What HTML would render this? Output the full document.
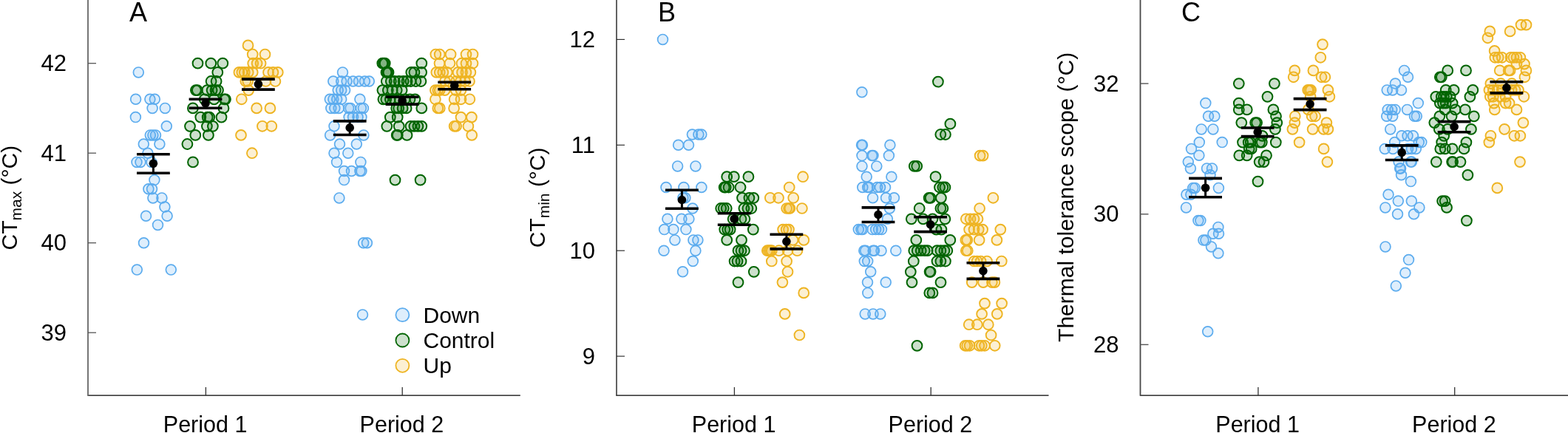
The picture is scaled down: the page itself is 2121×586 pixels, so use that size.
<!DOCTYPE html><html><head><meta charset="utf-8"><style>html,body{margin:0;padding:0;background:#fff}svg{display:block}text{font-family:"Liberation Sans",Arial,sans-serif;fill:#000}.D{fill:rgba(92,172,238,0.2);stroke:#5CACEE;stroke-width:1.7px}.C{fill:rgba(0,100,0,0.2);stroke:#006400;stroke-width:2px}.U{fill:rgba(238,180,34,0.2);stroke:#EEB422;stroke-width:1.9px}</style></head><body>
<svg width="2121" height="586" viewBox="0 0 2121 586">
<line x1="118.5" y1="535.1" x2="703.8" y2="535.1" stroke="#000" stroke-width="1.3"/>
<line x1="119" y1="0" x2="119" y2="535.7" stroke="#666" stroke-width="1.8"/>
<line x1="119" y1="85.7" x2="130" y2="85.7" stroke="#555" stroke-width="1.3"/>
<text x="90" y="96.3" font-size="31" text-anchor="end">42</text>
<line x1="119" y1="207.2" x2="130" y2="207.2" stroke="#555" stroke-width="1.3"/>
<text x="90" y="217.8" font-size="31" text-anchor="end">41</text>
<line x1="119" y1="328.7" x2="130" y2="328.7" stroke="#555" stroke-width="1.3"/>
<text x="90" y="339.3" font-size="31" text-anchor="end">40</text>
<line x1="119" y1="450.2" x2="130" y2="450.2" stroke="#555" stroke-width="1.3"/>
<text x="90" y="460.8" font-size="31" text-anchor="end">39</text>
<line x1="278.4" y1="524" x2="278.4" y2="535" stroke="#333" stroke-width="1.3"/>
<line x1="544.2" y1="524" x2="544.2" y2="535" stroke="#333" stroke-width="1.3"/>
<text x="220.8" y="585" font-size="30.5">Period 1</text>
<text x="486.6" y="585" font-size="30.5">Period 2</text>
<line x1="833.5" y1="535.1" x2="1418.5" y2="535.1" stroke="#000" stroke-width="1.3"/>
<line x1="834" y1="0" x2="834" y2="535.7" stroke="#3a3a3a" stroke-width="1.6"/>
<line x1="834" y1="53.4" x2="845" y2="53.4" stroke="#222" stroke-width="1.1"/>
<text x="805" y="64.0" font-size="31" text-anchor="end">12</text>
<line x1="834" y1="196.3" x2="845" y2="196.3" stroke="#222" stroke-width="1.1"/>
<text x="805" y="206.9" font-size="31" text-anchor="end">11</text>
<line x1="834" y1="339.2" x2="845" y2="339.2" stroke="#222" stroke-width="1.1"/>
<text x="805" y="349.8" font-size="31" text-anchor="end">10</text>
<line x1="834" y1="482.1" x2="845" y2="482.1" stroke="#222" stroke-width="1.1"/>
<text x="805" y="492.7" font-size="31" text-anchor="end">9</text>
<line x1="993.4" y1="524" x2="993.4" y2="535" stroke="#333" stroke-width="1.3"/>
<line x1="1259.2" y1="524" x2="1259.2" y2="535" stroke="#333" stroke-width="1.3"/>
<text x="935.8" y="585" font-size="30.5">Period 1</text>
<text x="1201.6" y="585" font-size="30.5">Period 2</text>
<line x1="1542.0" y1="535.1" x2="2121" y2="535.1" stroke="#000" stroke-width="1.3"/>
<line x1="1542.5" y1="0" x2="1542.5" y2="535.7" stroke="#474747" stroke-width="1.8"/>
<line x1="1542.5" y1="113.1" x2="1553.5" y2="113.1" stroke="#555" stroke-width="1.4"/>
<text x="1513.5" y="123.7" font-size="31" text-anchor="end">32</text>
<line x1="1542.5" y1="289.8" x2="1553.5" y2="289.8" stroke="#555" stroke-width="1.4"/>
<text x="1513.5" y="300.4" font-size="31" text-anchor="end">30</text>
<line x1="1542.5" y1="466.4" x2="1553.5" y2="466.4" stroke="#555" stroke-width="1.4"/>
<text x="1513.5" y="477.0" font-size="31" text-anchor="end">28</text>
<line x1="1701.9" y1="524" x2="1701.9" y2="535" stroke="#333" stroke-width="1.3"/>
<line x1="1967.7" y1="524" x2="1967.7" y2="535" stroke="#333" stroke-width="1.3"/>
<text x="1644.3" y="585" font-size="30.5">Period 1</text>
<text x="1910.1" y="585" font-size="30.5">Period 2</text>
<text x="175" y="28.8" font-size="36">A</text>
<text x="890" y="28.8" font-size="36">B</text>
<text x="1598" y="28.8" font-size="36">C</text>
<text transform="translate(22.5,338.4) rotate(-90)" font-size="30">CT<tspan font-size="21" dy="6">max</tspan><tspan dy="-6"> (°C)</tspan></text>
<text transform="translate(737,335.3) rotate(-90)" font-size="30">CT<tspan font-size="21" dy="6">min</tspan><tspan dy="-6"> (°C)</tspan></text>
<text transform="translate(1452.3,462.9) rotate(-90)" font-size="30">Thermal tolerance scope (°C)</text>
<circle class="D" cx="187.3" cy="97.9" r="6.9"/>
<circle class="D" cx="183.6" cy="134.3" r="6.9"/>
<circle class="D" cx="202.9" cy="134.3" r="6.9"/>
<circle class="D" cx="209.3" cy="134.3" r="6.9"/>
<circle class="D" cx="206.1" cy="146.4" r="6.9"/>
<circle class="D" cx="223.3" cy="146.4" r="6.9"/>
<circle class="D" cx="183.4" cy="158.6" r="6.9"/>
<circle class="D" cx="225.3" cy="170.8" r="6.9"/>
<circle class="D" cx="203.3" cy="182.9" r="6.9"/>
<circle class="D" cx="206.9" cy="182.9" r="6.9"/>
<circle class="D" cx="210.5" cy="182.9" r="6.9"/>
<circle class="D" cx="194.3" cy="195.0" r="6.9"/>
<circle class="D" cx="215.9" cy="195.0" r="6.9"/>
<circle class="D" cx="199.9" cy="207.2" r="6.9"/>
<circle class="D" cx="185" cy="219.4" r="6.9"/>
<circle class="D" cx="190" cy="219.4" r="6.9"/>
<circle class="D" cx="204.9" cy="219.4" r="6.9"/>
<circle class="D" cx="208.9" cy="243.6" r="6.9"/>
<circle class="D" cx="200.9" cy="255.8" r="6.9"/>
<circle class="D" cx="205.5" cy="255.8" r="6.9"/>
<circle class="D" cx="206.9" cy="267.9" r="6.9"/>
<circle class="D" cx="218.9" cy="267.9" r="6.9"/>
<circle class="D" cx="222.9" cy="280.1" r="6.9"/>
<circle class="D" cx="197.5" cy="292.3" r="6.9"/>
<circle class="D" cx="226.1" cy="292.3" r="6.9"/>
<circle class="D" cx="213.5" cy="304.4" r="6.9"/>
<circle class="D" cx="194.5" cy="328.7" r="6.9"/>
<circle class="D" cx="185.3" cy="365.1" r="6.9"/>
<circle class="D" cx="231.3" cy="365.1" r="6.9"/>
<circle class="C" cx="267.5" cy="85.7" r="6.9"/>
<circle class="C" cx="285.3" cy="85.7" r="6.9"/>
<circle class="C" cx="301.3" cy="85.7" r="6.9"/>
<circle class="C" cx="294.3" cy="97.9" r="6.9"/>
<circle class="C" cx="285.6" cy="110.0" r="6.9"/>
<circle class="C" cx="292.6" cy="110.0" r="6.9"/>
<circle class="C" cx="264.9" cy="122.1" r="6.9"/>
<circle class="C" cx="266.8" cy="122.1" r="6.9"/>
<circle class="C" cx="280.2" cy="122.1" r="6.9"/>
<circle class="C" cx="286.6" cy="122.1" r="6.9"/>
<circle class="C" cx="291.6" cy="122.1" r="6.9"/>
<circle class="C" cx="295" cy="122.1" r="6.9"/>
<circle class="C" cx="276.7" cy="134.3" r="6.9"/>
<circle class="C" cx="289.6" cy="134.3" r="6.9"/>
<circle class="C" cx="303.5" cy="134.3" r="6.9"/>
<circle class="C" cx="305" cy="134.3" r="6.9"/>
<circle class="C" cx="260.9" cy="146.4" r="6.9"/>
<circle class="C" cx="302.5" cy="146.4" r="6.9"/>
<circle class="C" cx="271.3" cy="158.6" r="6.9"/>
<circle class="C" cx="280.7" cy="158.6" r="6.9"/>
<circle class="C" cx="283.2" cy="158.6" r="6.9"/>
<circle class="C" cx="299.5" cy="158.6" r="6.9"/>
<circle class="C" cx="257" cy="170.8" r="6.9"/>
<circle class="C" cx="279.9" cy="170.8" r="6.9"/>
<circle class="C" cx="287.9" cy="170.8" r="6.9"/>
<circle class="C" cx="264.3" cy="182.9" r="6.9"/>
<circle class="C" cx="281.9" cy="182.9" r="6.9"/>
<circle class="C" cx="253.4" cy="195.0" r="6.9"/>
<circle class="C" cx="261" cy="219.4" r="6.9"/>
<circle class="U" cx="335.5" cy="61.4" r="6.9"/>
<circle class="U" cx="341.7" cy="73.5" r="6.9"/>
<circle class="U" cx="358.5" cy="73.5" r="6.9"/>
<circle class="U" cx="342.2" cy="85.7" r="6.9"/>
<circle class="U" cx="347.6" cy="85.7" r="6.9"/>
<circle class="U" cx="352.6" cy="85.7" r="6.9"/>
<circle class="U" cx="323.4" cy="97.9" r="6.9"/>
<circle class="U" cx="327.3" cy="97.9" r="6.9"/>
<circle class="U" cx="330.8" cy="97.9" r="6.9"/>
<circle class="U" cx="335.7" cy="97.9" r="6.9"/>
<circle class="U" cx="341.7" cy="97.9" r="6.9"/>
<circle class="U" cx="363" cy="97.9" r="6.9"/>
<circle class="U" cx="369.4" cy="97.9" r="6.9"/>
<circle class="U" cx="375.8" cy="97.9" r="6.9"/>
<circle class="U" cx="332.3" cy="110.0" r="6.9"/>
<circle class="U" cx="335.2" cy="110.0" r="6.9"/>
<circle class="U" cx="359.5" cy="110.0" r="6.9"/>
<circle class="U" cx="372.4" cy="110.0" r="6.9"/>
<circle class="U" cx="336.2" cy="122.1" r="6.9"/>
<circle class="U" cx="326.8" cy="134.3" r="6.9"/>
<circle class="U" cx="347.1" cy="146.4" r="6.9"/>
<circle class="U" cx="365.4" cy="146.4" r="6.9"/>
<circle class="U" cx="354.9" cy="170.8" r="6.9"/>
<circle class="U" cx="367.3" cy="170.8" r="6.9"/>
<circle class="U" cx="326" cy="182.9" r="6.9"/>
<circle class="U" cx="340.9" cy="207.2" r="6.9"/>
<circle class="D" cx="463.5" cy="97.9" r="6.9"/>
<circle class="D" cx="450.8" cy="110.0" r="6.9"/>
<circle class="D" cx="461.7" cy="110.0" r="6.9"/>
<circle class="D" cx="469.1" cy="110.0" r="6.9"/>
<circle class="D" cx="477.5" cy="110.0" r="6.9"/>
<circle class="D" cx="485.4" cy="110.0" r="6.9"/>
<circle class="D" cx="493.4" cy="110.0" r="6.9"/>
<circle class="D" cx="499.3" cy="110.0" r="6.9"/>
<circle class="D" cx="457.2" cy="122.1" r="6.9"/>
<circle class="D" cx="461.7" cy="122.1" r="6.9"/>
<circle class="D" cx="466.6" cy="122.1" r="6.9"/>
<circle class="D" cx="446.3" cy="134.3" r="6.9"/>
<circle class="D" cx="450.8" cy="134.3" r="6.9"/>
<circle class="D" cx="455.7" cy="134.3" r="6.9"/>
<circle class="D" cx="461.7" cy="134.3" r="6.9"/>
<circle class="D" cx="486.9" cy="134.3" r="6.9"/>
<circle class="D" cx="447.8" cy="146.4" r="6.9"/>
<circle class="D" cx="452.8" cy="146.4" r="6.9"/>
<circle class="D" cx="458.2" cy="146.4" r="6.9"/>
<circle class="D" cx="471.6" cy="146.4" r="6.9"/>
<circle class="D" cx="474.1" cy="146.4" r="6.9"/>
<circle class="D" cx="488.4" cy="146.4" r="6.9"/>
<circle class="D" cx="491.4" cy="146.4" r="6.9"/>
<circle class="D" cx="472.1" cy="158.6" r="6.9"/>
<circle class="D" cx="477.5" cy="158.6" r="6.9"/>
<circle class="D" cx="484" cy="158.6" r="6.9"/>
<circle class="D" cx="488.9" cy="158.6" r="6.9"/>
<circle class="D" cx="452" cy="170.8" r="6.9"/>
<circle class="D" cx="446.6" cy="182.9" r="6.9"/>
<circle class="D" cx="491.9" cy="182.9" r="6.9"/>
<circle class="D" cx="459.5" cy="195.0" r="6.9"/>
<circle class="D" cx="482.3" cy="195.0" r="6.9"/>
<circle class="D" cx="452" cy="207.2" r="6.9"/>
<circle class="D" cx="470.8" cy="207.2" r="6.9"/>
<circle class="D" cx="455.5" cy="219.4" r="6.9"/>
<circle class="D" cx="487.9" cy="219.4" r="6.9"/>
<circle class="D" cx="465.5" cy="231.5" r="6.9"/>
<circle class="D" cx="475.5" cy="231.5" r="6.9"/>
<circle class="D" cx="486.9" cy="231.5" r="6.9"/>
<circle class="D" cx="488.9" cy="231.5" r="6.9"/>
<circle class="D" cx="465.5" cy="243.6" r="6.9"/>
<circle class="D" cx="458.9" cy="267.9" r="6.9"/>
<circle class="D" cx="491.7" cy="328.7" r="6.9"/>
<circle class="D" cx="496.4" cy="328.7" r="6.9"/>
<circle class="D" cx="490.5" cy="425.9" r="6.9"/>
<circle class="C" cx="517.3" cy="85.7" r="6.9"/>
<circle class="C" cx="519" cy="85.7" r="6.9"/>
<circle class="C" cx="520.7" cy="85.7" r="6.9"/>
<circle class="C" cx="570.3" cy="85.7" r="6.9"/>
<circle class="C" cx="522.5" cy="97.9" r="6.9"/>
<circle class="C" cx="524" cy="97.9" r="6.9"/>
<circle class="C" cx="525.5" cy="97.9" r="6.9"/>
<circle class="C" cx="556.3" cy="97.9" r="6.9"/>
<circle class="C" cx="560.4" cy="97.9" r="6.9"/>
<circle class="C" cx="570.1" cy="97.9" r="6.9"/>
<circle class="C" cx="522.8" cy="110.0" r="6.9"/>
<circle class="C" cx="528.8" cy="110.0" r="6.9"/>
<circle class="C" cx="533.7" cy="110.0" r="6.9"/>
<circle class="C" cx="539.7" cy="110.0" r="6.9"/>
<circle class="C" cx="545.6" cy="110.0" r="6.9"/>
<circle class="C" cx="550.5" cy="110.0" r="6.9"/>
<circle class="C" cx="555.5" cy="110.0" r="6.9"/>
<circle class="C" cx="562.4" cy="110.0" r="6.9"/>
<circle class="C" cx="569.4" cy="110.0" r="6.9"/>
<circle class="C" cx="517.4" cy="122.1" r="6.9"/>
<circle class="C" cx="524.8" cy="122.1" r="6.9"/>
<circle class="C" cx="530.7" cy="122.1" r="6.9"/>
<circle class="C" cx="536.7" cy="122.1" r="6.9"/>
<circle class="C" cx="543.6" cy="122.1" r="6.9"/>
<circle class="C" cx="518.4" cy="134.3" r="6.9"/>
<circle class="C" cx="522.3" cy="134.3" r="6.9"/>
<circle class="C" cx="527.8" cy="134.3" r="6.9"/>
<circle class="C" cx="533.7" cy="134.3" r="6.9"/>
<circle class="C" cx="540.6" cy="134.3" r="6.9"/>
<circle class="C" cx="547.6" cy="134.3" r="6.9"/>
<circle class="C" cx="554.5" cy="134.3" r="6.9"/>
<circle class="C" cx="561.4" cy="134.3" r="6.9"/>
<circle class="C" cx="536.2" cy="146.4" r="6.9"/>
<circle class="C" cx="539.2" cy="146.4" r="6.9"/>
<circle class="C" cx="544.6" cy="146.4" r="6.9"/>
<circle class="C" cx="549.6" cy="146.4" r="6.9"/>
<circle class="C" cx="570.3" cy="146.4" r="6.9"/>
<circle class="C" cx="527.8" cy="158.6" r="6.9"/>
<circle class="C" cx="537.7" cy="158.6" r="6.9"/>
<circle class="C" cx="523.3" cy="170.8" r="6.9"/>
<circle class="C" cx="539.7" cy="170.8" r="6.9"/>
<circle class="C" cx="555.5" cy="170.8" r="6.9"/>
<circle class="C" cx="560.4" cy="170.8" r="6.9"/>
<circle class="C" cx="565.4" cy="170.8" r="6.9"/>
<circle class="C" cx="570.3" cy="170.8" r="6.9"/>
<circle class="C" cx="536.7" cy="182.9" r="6.9"/>
<circle class="C" cx="537.7" cy="182.9" r="6.9"/>
<circle class="C" cx="550.5" cy="182.9" r="6.9"/>
<circle class="C" cx="534.5" cy="243.6" r="6.9"/>
<circle class="C" cx="568.6" cy="243.6" r="6.9"/>
<circle class="U" cx="589.3" cy="73.5" r="6.9"/>
<circle class="U" cx="594.7" cy="73.5" r="6.9"/>
<circle class="U" cx="609.6" cy="73.5" r="6.9"/>
<circle class="U" cx="630.5" cy="73.5" r="6.9"/>
<circle class="U" cx="639.5" cy="73.5" r="6.9"/>
<circle class="U" cx="594.5" cy="85.7" r="6.9"/>
<circle class="U" cx="608.5" cy="85.7" r="6.9"/>
<circle class="U" cx="624.5" cy="85.7" r="6.9"/>
<circle class="U" cx="630.5" cy="85.7" r="6.9"/>
<circle class="U" cx="639.5" cy="85.7" r="6.9"/>
<circle class="U" cx="590.3" cy="97.9" r="6.9"/>
<circle class="U" cx="594.8" cy="97.9" r="6.9"/>
<circle class="U" cx="599.3" cy="97.9" r="6.9"/>
<circle class="U" cx="604.7" cy="97.9" r="6.9"/>
<circle class="U" cx="619.6" cy="97.9" r="6.9"/>
<circle class="U" cx="625" cy="97.9" r="6.9"/>
<circle class="U" cx="630.4" cy="97.9" r="6.9"/>
<circle class="U" cx="636.4" cy="97.9" r="6.9"/>
<circle class="U" cx="602" cy="110.0" r="6.9"/>
<circle class="U" cx="608" cy="110.0" r="6.9"/>
<circle class="U" cx="617" cy="110.0" r="6.9"/>
<circle class="U" cx="623" cy="110.0" r="6.9"/>
<circle class="U" cx="629" cy="110.0" r="6.9"/>
<circle class="U" cx="635" cy="110.0" r="6.9"/>
<circle class="U" cx="588.9" cy="122.1" r="6.9"/>
<circle class="U" cx="592.3" cy="122.1" r="6.9"/>
<circle class="U" cx="594.8" cy="122.1" r="6.9"/>
<circle class="U" cx="601.7" cy="122.1" r="6.9"/>
<circle class="U" cx="616.6" cy="122.1" r="6.9"/>
<circle class="U" cx="623.5" cy="122.1" r="6.9"/>
<circle class="U" cx="588.9" cy="134.3" r="6.9"/>
<circle class="U" cx="614.6" cy="134.3" r="6.9"/>
<circle class="U" cx="623.5" cy="134.3" r="6.9"/>
<circle class="U" cx="635.4" cy="134.3" r="6.9"/>
<circle class="U" cx="592.3" cy="146.4" r="6.9"/>
<circle class="U" cx="594.8" cy="146.4" r="6.9"/>
<circle class="U" cx="614.1" cy="146.4" r="6.9"/>
<circle class="U" cx="623.5" cy="158.6" r="6.9"/>
<circle class="U" cx="637.9" cy="158.6" r="6.9"/>
<circle class="U" cx="614.6" cy="170.8" r="6.9"/>
<circle class="U" cx="617.1" cy="170.8" r="6.9"/>
<circle class="U" cx="633.4" cy="170.8" r="6.9"/>
<circle class="U" cx="638.2" cy="182.9" r="6.9"/>
<circle class="D" cx="896.5" cy="53.4" r="6.9"/>
<circle class="D" cx="936.4" cy="182.0" r="6.9"/>
<circle class="D" cx="944.9" cy="182.0" r="6.9"/>
<circle class="D" cx="948.8" cy="182.0" r="6.9"/>
<circle class="D" cx="917.6" cy="196.3" r="6.9"/>
<circle class="D" cx="931.5" cy="196.3" r="6.9"/>
<circle class="D" cx="916.6" cy="224.9" r="6.9"/>
<circle class="D" cx="940.9" cy="224.9" r="6.9"/>
<circle class="D" cx="901" cy="253.5" r="6.9"/>
<circle class="D" cx="924.9" cy="253.5" r="6.9"/>
<circle class="D" cx="948.9" cy="253.5" r="6.9"/>
<circle class="D" cx="923.9" cy="267.8" r="6.9"/>
<circle class="D" cx="926.9" cy="267.8" r="6.9"/>
<circle class="D" cx="936.9" cy="282.0" r="6.9"/>
<circle class="D" cx="902.9" cy="296.3" r="6.9"/>
<circle class="D" cx="921.9" cy="296.3" r="6.9"/>
<circle class="D" cx="931.9" cy="296.3" r="6.9"/>
<circle class="D" cx="898.6" cy="310.6" r="6.9"/>
<circle class="D" cx="910.9" cy="310.6" r="6.9"/>
<circle class="D" cx="927.9" cy="310.6" r="6.9"/>
<circle class="D" cx="912.9" cy="324.9" r="6.9"/>
<circle class="D" cx="937.9" cy="324.9" r="6.9"/>
<circle class="D" cx="943.9" cy="324.9" r="6.9"/>
<circle class="D" cx="898" cy="339.2" r="6.9"/>
<circle class="D" cx="940.9" cy="339.2" r="6.9"/>
<circle class="D" cx="937.3" cy="353.5" r="6.9"/>
<circle class="D" cx="923.5" cy="367.8" r="6.9"/>
<circle class="C" cx="983.2" cy="239.2" r="6.9"/>
<circle class="C" cx="992.8" cy="239.2" r="6.9"/>
<circle class="C" cx="1012.4" cy="239.2" r="6.9"/>
<circle class="C" cx="979.7" cy="253.5" r="6.9"/>
<circle class="C" cx="981.7" cy="253.5" r="6.9"/>
<circle class="C" cx="985.6" cy="253.5" r="6.9"/>
<circle class="C" cx="1001.5" cy="253.5" r="6.9"/>
<circle class="C" cx="1004" cy="267.8" r="6.9"/>
<circle class="C" cx="1013.4" cy="267.8" r="6.9"/>
<circle class="C" cx="1019.3" cy="267.8" r="6.9"/>
<circle class="C" cx="975.2" cy="282.0" r="6.9"/>
<circle class="C" cx="978.7" cy="282.0" r="6.9"/>
<circle class="C" cx="982.7" cy="282.0" r="6.9"/>
<circle class="C" cx="1006.4" cy="282.0" r="6.9"/>
<circle class="C" cx="1011.4" cy="282.0" r="6.9"/>
<circle class="C" cx="1016.3" cy="282.0" r="6.9"/>
<circle class="C" cx="991.6" cy="296.3" r="6.9"/>
<circle class="C" cx="1002.5" cy="296.3" r="6.9"/>
<circle class="C" cx="1007.4" cy="296.3" r="6.9"/>
<circle class="C" cx="980.2" cy="310.6" r="6.9"/>
<circle class="C" cx="984.2" cy="310.6" r="6.9"/>
<circle class="C" cx="987.6" cy="310.6" r="6.9"/>
<circle class="C" cx="1018.8" cy="310.6" r="6.9"/>
<circle class="C" cx="983.2" cy="324.9" r="6.9"/>
<circle class="C" cx="1003" cy="324.9" r="6.9"/>
<circle class="C" cx="998.5" cy="339.2" r="6.9"/>
<circle class="C" cx="1002.5" cy="339.2" r="6.9"/>
<circle class="C" cx="1006.9" cy="339.2" r="6.9"/>
<circle class="C" cx="993.6" cy="353.5" r="6.9"/>
<circle class="C" cx="997.5" cy="353.5" r="6.9"/>
<circle class="C" cx="1002.5" cy="353.5" r="6.9"/>
<circle class="C" cx="1019.8" cy="367.8" r="6.9"/>
<circle class="C" cx="998.5" cy="382.1" r="6.9"/>
<circle class="U" cx="1086.1" cy="239.2" r="6.9"/>
<circle class="U" cx="1067.7" cy="253.5" r="6.9"/>
<circle class="U" cx="1041.8" cy="267.8" r="6.9"/>
<circle class="U" cx="1053" cy="267.8" r="6.9"/>
<circle class="U" cx="1073.2" cy="267.8" r="6.9"/>
<circle class="U" cx="1064.1" cy="282.0" r="6.9"/>
<circle class="U" cx="1067" cy="282.0" r="6.9"/>
<circle class="U" cx="1068.5" cy="282.0" r="6.9"/>
<circle class="U" cx="1084.9" cy="282.0" r="6.9"/>
<circle class="U" cx="1059.1" cy="310.6" r="6.9"/>
<circle class="U" cx="1063.6" cy="310.6" r="6.9"/>
<circle class="U" cx="1067" cy="310.6" r="6.9"/>
<circle class="U" cx="1072.5" cy="324.9" r="6.9"/>
<circle class="U" cx="1087.3" cy="324.9" r="6.9"/>
<circle class="U" cx="1037.8" cy="339.2" r="6.9"/>
<circle class="U" cx="1039.8" cy="339.2" r="6.9"/>
<circle class="U" cx="1041.8" cy="339.2" r="6.9"/>
<circle class="U" cx="1043.8" cy="339.2" r="6.9"/>
<circle class="U" cx="1053.7" cy="339.2" r="6.9"/>
<circle class="U" cx="1065.5" cy="339.2" r="6.9"/>
<circle class="U" cx="1078.4" cy="339.2" r="6.9"/>
<circle class="U" cx="1043.8" cy="353.5" r="6.9"/>
<circle class="U" cx="1064.1" cy="353.5" r="6.9"/>
<circle class="U" cx="1065.5" cy="367.8" r="6.9"/>
<circle class="U" cx="1058.4" cy="382.1" r="6.9"/>
<circle class="U" cx="1087.2" cy="396.4" r="6.9"/>
<circle class="U" cx="1061.7" cy="424.9" r="6.9"/>
<circle class="U" cx="1081.4" cy="453.5" r="6.9"/>
<circle class="D" cx="1165.9" cy="124.8" r="6.9"/>
<circle class="D" cx="1165.5" cy="196.3" r="6.9"/>
<circle class="D" cx="1166.5" cy="196.3" r="6.9"/>
<circle class="D" cx="1203.9" cy="196.3" r="6.9"/>
<circle class="D" cx="1166" cy="210.6" r="6.9"/>
<circle class="D" cx="1179.5" cy="210.6" r="6.9"/>
<circle class="D" cx="1181" cy="210.6" r="6.9"/>
<circle class="D" cx="1202.4" cy="210.6" r="6.9"/>
<circle class="D" cx="1166" cy="224.9" r="6.9"/>
<circle class="D" cx="1185.8" cy="224.9" r="6.9"/>
<circle class="D" cx="1172.2" cy="239.2" r="6.9"/>
<circle class="D" cx="1205.9" cy="239.2" r="6.9"/>
<circle class="D" cx="1166.8" cy="253.5" r="6.9"/>
<circle class="D" cx="1173.7" cy="253.5" r="6.9"/>
<circle class="D" cx="1175.7" cy="253.5" r="6.9"/>
<circle class="D" cx="1186.6" cy="253.5" r="6.9"/>
<circle class="D" cx="1190.5" cy="253.5" r="6.9"/>
<circle class="D" cx="1197.5" cy="253.5" r="6.9"/>
<circle class="D" cx="1180.6" cy="267.8" r="6.9"/>
<circle class="D" cx="1198.5" cy="267.8" r="6.9"/>
<circle class="D" cx="1209.4" cy="267.8" r="6.9"/>
<circle class="D" cx="1203.4" cy="282.0" r="6.9"/>
<circle class="D" cx="1200.4" cy="296.3" r="6.9"/>
<circle class="D" cx="1161.3" cy="310.6" r="6.9"/>
<circle class="D" cx="1164.8" cy="310.6" r="6.9"/>
<circle class="D" cx="1166.8" cy="310.6" r="6.9"/>
<circle class="D" cx="1180.1" cy="310.6" r="6.9"/>
<circle class="D" cx="1184.6" cy="310.6" r="6.9"/>
<circle class="D" cx="1188.6" cy="310.6" r="6.9"/>
<circle class="D" cx="1192.5" cy="310.6" r="6.9"/>
<circle class="D" cx="1168.8" cy="339.2" r="6.9"/>
<circle class="D" cx="1170.7" cy="339.2" r="6.9"/>
<circle class="D" cx="1181.1" cy="339.2" r="6.9"/>
<circle class="D" cx="1182.6" cy="339.2" r="6.9"/>
<circle class="D" cx="1192" cy="339.2" r="6.9"/>
<circle class="D" cx="1211.8" cy="339.2" r="6.9"/>
<circle class="D" cx="1169.3" cy="353.5" r="6.9"/>
<circle class="D" cx="1173.7" cy="353.5" r="6.9"/>
<circle class="D" cx="1177.7" cy="367.8" r="6.9"/>
<circle class="D" cx="1173.5" cy="382.1" r="6.9"/>
<circle class="D" cx="1198.2" cy="382.1" r="6.9"/>
<circle class="D" cx="1173.8" cy="396.4" r="6.9"/>
<circle class="D" cx="1170.2" cy="424.9" r="6.9"/>
<circle class="D" cx="1181" cy="424.9" r="6.9"/>
<circle class="D" cx="1190.8" cy="424.9" r="6.9"/>
<circle class="C" cx="1268.9" cy="110.6" r="6.9"/>
<circle class="C" cx="1285.4" cy="167.7" r="6.9"/>
<circle class="C" cx="1272.3" cy="182.0" r="6.9"/>
<circle class="C" cx="1278.9" cy="182.0" r="6.9"/>
<circle class="C" cx="1236.8" cy="224.9" r="6.9"/>
<circle class="C" cx="1240.2" cy="224.9" r="6.9"/>
<circle class="C" cx="1265.5" cy="239.2" r="6.9"/>
<circle class="C" cx="1271" cy="253.5" r="6.9"/>
<circle class="C" cx="1275.4" cy="253.5" r="6.9"/>
<circle class="C" cx="1278.4" cy="253.5" r="6.9"/>
<circle class="C" cx="1256.6" cy="267.8" r="6.9"/>
<circle class="C" cx="1258.6" cy="267.8" r="6.9"/>
<circle class="C" cx="1272.9" cy="267.8" r="6.9"/>
<circle class="C" cx="1243.7" cy="282.0" r="6.9"/>
<circle class="C" cx="1272.4" cy="282.0" r="6.9"/>
<circle class="C" cx="1275.4" cy="282.0" r="6.9"/>
<circle class="C" cx="1232.8" cy="296.3" r="6.9"/>
<circle class="C" cx="1248.7" cy="296.3" r="6.9"/>
<circle class="C" cx="1261.5" cy="296.3" r="6.9"/>
<circle class="C" cx="1278.4" cy="296.3" r="6.9"/>
<circle class="C" cx="1266.5" cy="310.6" r="6.9"/>
<circle class="C" cx="1273.4" cy="310.6" r="6.9"/>
<circle class="C" cx="1239.3" cy="324.9" r="6.9"/>
<circle class="C" cx="1285.3" cy="324.9" r="6.9"/>
<circle class="C" cx="1236.3" cy="339.2" r="6.9"/>
<circle class="C" cx="1240.7" cy="339.2" r="6.9"/>
<circle class="C" cx="1245.7" cy="339.2" r="6.9"/>
<circle class="C" cx="1250.6" cy="339.2" r="6.9"/>
<circle class="C" cx="1254.6" cy="339.2" r="6.9"/>
<circle class="C" cx="1267.5" cy="339.2" r="6.9"/>
<circle class="C" cx="1272.4" cy="339.2" r="6.9"/>
<circle class="C" cx="1277.4" cy="339.2" r="6.9"/>
<circle class="C" cx="1281.3" cy="339.2" r="6.9"/>
<circle class="C" cx="1235.8" cy="353.5" r="6.9"/>
<circle class="C" cx="1267.5" cy="353.5" r="6.9"/>
<circle class="C" cx="1272.4" cy="353.5" r="6.9"/>
<circle class="C" cx="1278.9" cy="353.5" r="6.9"/>
<circle class="C" cx="1231.8" cy="367.8" r="6.9"/>
<circle class="C" cx="1257.6" cy="367.8" r="6.9"/>
<circle class="C" cx="1258.6" cy="367.8" r="6.9"/>
<circle class="C" cx="1233.5" cy="382.1" r="6.9"/>
<circle class="C" cx="1272.5" cy="382.1" r="6.9"/>
<circle class="C" cx="1257.3" cy="396.4" r="6.9"/>
<circle class="C" cx="1261.5" cy="396.4" r="6.9"/>
<circle class="C" cx="1240.5" cy="467.8" r="6.9"/>
<circle class="U" cx="1325.6" cy="210.6" r="6.9"/>
<circle class="U" cx="1329.6" cy="210.6" r="6.9"/>
<circle class="U" cx="1343.4" cy="267.8" r="6.9"/>
<circle class="U" cx="1325.1" cy="282.0" r="6.9"/>
<circle class="U" cx="1306.8" cy="296.3" r="6.9"/>
<circle class="U" cx="1312.5" cy="296.3" r="6.9"/>
<circle class="U" cx="1317.5" cy="296.3" r="6.9"/>
<circle class="U" cx="1322.5" cy="296.3" r="6.9"/>
<circle class="U" cx="1311.1" cy="310.6" r="6.9"/>
<circle class="U" cx="1317.5" cy="310.6" r="6.9"/>
<circle class="U" cx="1323.7" cy="310.6" r="6.9"/>
<circle class="U" cx="1329.1" cy="310.6" r="6.9"/>
<circle class="U" cx="1353.3" cy="310.6" r="6.9"/>
<circle class="U" cx="1306.3" cy="324.9" r="6.9"/>
<circle class="U" cx="1308.3" cy="324.9" r="6.9"/>
<circle class="U" cx="1324.6" cy="324.9" r="6.9"/>
<circle class="U" cx="1348.4" cy="324.9" r="6.9"/>
<circle class="U" cx="1306.8" cy="339.2" r="6.9"/>
<circle class="U" cx="1308.8" cy="339.2" r="6.9"/>
<circle class="U" cx="1317.7" cy="353.5" r="6.9"/>
<circle class="U" cx="1321.6" cy="353.5" r="6.9"/>
<circle class="U" cx="1326.6" cy="353.5" r="6.9"/>
<circle class="U" cx="1335" cy="353.5" r="6.9"/>
<circle class="U" cx="1354.8" cy="353.5" r="6.9"/>
<circle class="U" cx="1314.7" cy="382.1" r="6.9"/>
<circle class="U" cx="1330" cy="382.1" r="6.9"/>
<circle class="U" cx="1341.9" cy="382.1" r="6.9"/>
<circle class="U" cx="1345.4" cy="382.1" r="6.9"/>
<circle class="U" cx="1332" cy="410.6" r="6.9"/>
<circle class="U" cx="1355.1" cy="410.6" r="6.9"/>
<circle class="U" cx="1328.1" cy="424.9" r="6.9"/>
<circle class="U" cx="1348.8" cy="424.9" r="6.9"/>
<circle class="U" cx="1310.7" cy="439.2" r="6.9"/>
<circle class="U" cx="1321.8" cy="439.2" r="6.9"/>
<circle class="U" cx="1336.8" cy="439.2" r="6.9"/>
<circle class="U" cx="1340.6" cy="453.5" r="6.9"/>
<circle class="U" cx="1305.6" cy="467.8" r="6.9"/>
<circle class="U" cx="1308.2" cy="467.8" r="6.9"/>
<circle class="U" cx="1311.6" cy="467.8" r="6.9"/>
<circle class="U" cx="1324.4" cy="467.8" r="6.9"/>
<circle class="U" cx="1327.8" cy="467.8" r="6.9"/>
<circle class="U" cx="1332" cy="467.8" r="6.9"/>
<circle class="U" cx="1345.7" cy="467.8" r="6.9"/>
<circle class="D" cx="1630.8" cy="139.6" r="6.9"/>
<circle class="D" cx="1634.5" cy="157.3" r="6.9"/>
<circle class="D" cx="1642.9" cy="157.3" r="6.9"/>
<circle class="D" cx="1625.1" cy="174.9" r="6.9"/>
<circle class="D" cx="1640.9" cy="174.9" r="6.9"/>
<circle class="D" cx="1622.3" cy="192.6" r="6.9"/>
<circle class="D" cx="1653.2" cy="192.6" r="6.9"/>
<circle class="D" cx="1611.5" cy="201.4" r="6.9"/>
<circle class="D" cx="1621.9" cy="210.3" r="6.9"/>
<circle class="D" cx="1607.3" cy="219.1" r="6.9"/>
<circle class="D" cx="1610.4" cy="227.9" r="6.9"/>
<circle class="D" cx="1632.5" cy="227.9" r="6.9"/>
<circle class="D" cx="1639.5" cy="227.9" r="6.9"/>
<circle class="D" cx="1637" cy="236.8" r="6.9"/>
<circle class="D" cx="1613.8" cy="254.4" r="6.9"/>
<circle class="D" cx="1616.4" cy="254.4" r="6.9"/>
<circle class="D" cx="1648.4" cy="254.4" r="6.9"/>
<circle class="D" cx="1604.9" cy="263.3" r="6.9"/>
<circle class="D" cx="1610.8" cy="263.3" r="6.9"/>
<circle class="D" cx="1604.5" cy="280.9" r="6.9"/>
<circle class="D" cx="1620.9" cy="298.6" r="6.9"/>
<circle class="D" cx="1623.9" cy="298.6" r="6.9"/>
<circle class="D" cx="1647.9" cy="307.4" r="6.9"/>
<circle class="D" cx="1640.9" cy="316.3" r="6.9"/>
<circle class="D" cx="1648.5" cy="316.3" r="6.9"/>
<circle class="D" cx="1627.9" cy="325.1" r="6.9"/>
<circle class="D" cx="1630.9" cy="325.1" r="6.9"/>
<circle class="D" cx="1638.5" cy="333.9" r="6.9"/>
<circle class="D" cx="1647.9" cy="342.8" r="6.9"/>
<circle class="D" cx="1633.7" cy="448.8" r="6.9"/>
<circle class="C" cx="1675.8" cy="113.1" r="6.9"/>
<circle class="C" cx="1723.9" cy="113.1" r="6.9"/>
<circle class="C" cx="1714.5" cy="130.8" r="6.9"/>
<circle class="C" cx="1675.8" cy="139.6" r="6.9"/>
<circle class="C" cx="1675.8" cy="148.4" r="6.9"/>
<circle class="C" cx="1686.7" cy="148.4" r="6.9"/>
<circle class="C" cx="1722.4" cy="148.4" r="6.9"/>
<circle class="C" cx="1726" cy="157.3" r="6.9"/>
<circle class="C" cx="1679.3" cy="166.1" r="6.9"/>
<circle class="C" cx="1698.1" cy="166.1" r="6.9"/>
<circle class="C" cx="1700.1" cy="166.1" r="6.9"/>
<circle class="C" cx="1727.3" cy="166.1" r="6.9"/>
<circle class="C" cx="1724.9" cy="174.9" r="6.9"/>
<circle class="C" cx="1707.5" cy="183.8" r="6.9"/>
<circle class="C" cx="1681" cy="192.6" r="6.9"/>
<circle class="C" cx="1688.7" cy="192.6" r="6.9"/>
<circle class="C" cx="1691.7" cy="192.6" r="6.9"/>
<circle class="C" cx="1704" cy="192.6" r="6.9"/>
<circle class="C" cx="1706.8" cy="192.6" r="6.9"/>
<circle class="C" cx="1725.8" cy="192.6" r="6.9"/>
<circle class="C" cx="1689.7" cy="201.4" r="6.9"/>
<circle class="C" cx="1692.7" cy="201.4" r="6.9"/>
<circle class="C" cx="1676.3" cy="210.3" r="6.9"/>
<circle class="C" cx="1686.7" cy="210.3" r="6.9"/>
<circle class="C" cx="1713" cy="210.3" r="6.9"/>
<circle class="C" cx="1703.6" cy="219.1" r="6.9"/>
<circle class="C" cx="1709.5" cy="219.1" r="6.9"/>
<circle class="C" cx="1701.5" cy="245.6" r="6.9"/>
<circle class="U" cx="1789" cy="60.1" r="6.9"/>
<circle class="U" cx="1786.3" cy="77.8" r="6.9"/>
<circle class="U" cx="1751.3" cy="95.4" r="6.9"/>
<circle class="U" cx="1776.4" cy="95.4" r="6.9"/>
<circle class="U" cx="1749.7" cy="104.3" r="6.9"/>
<circle class="U" cx="1787.5" cy="104.3" r="6.9"/>
<circle class="U" cx="1792.4" cy="104.3" r="6.9"/>
<circle class="U" cx="1769.2" cy="121.9" r="6.9"/>
<circle class="U" cx="1771.1" cy="121.9" r="6.9"/>
<circle class="U" cx="1773.1" cy="121.9" r="6.9"/>
<circle class="U" cx="1796.4" cy="121.9" r="6.9"/>
<circle class="U" cx="1772.6" cy="130.8" r="6.9"/>
<circle class="U" cx="1798.4" cy="130.8" r="6.9"/>
<circle class="U" cx="1769.7" cy="148.4" r="6.9"/>
<circle class="U" cx="1751.8" cy="157.3" r="6.9"/>
<circle class="U" cx="1774.6" cy="157.3" r="6.9"/>
<circle class="U" cx="1779.1" cy="157.3" r="6.9"/>
<circle class="U" cx="1751.3" cy="166.1" r="6.9"/>
<circle class="U" cx="1794.4" cy="166.1" r="6.9"/>
<circle class="U" cx="1748.4" cy="174.9" r="6.9"/>
<circle class="U" cx="1775.6" cy="174.9" r="6.9"/>
<circle class="U" cx="1790.4" cy="174.9" r="6.9"/>
<circle class="U" cx="1796.4" cy="174.9" r="6.9"/>
<circle class="U" cx="1757.6" cy="192.6" r="6.9"/>
<circle class="U" cx="1790.6" cy="201.4" r="6.9"/>
<circle class="U" cx="1795.4" cy="219.1" r="6.9"/>
<circle class="D" cx="1899.5" cy="95.4" r="6.9"/>
<circle class="D" cx="1904.5" cy="104.3" r="6.9"/>
<circle class="D" cx="1887.4" cy="113.1" r="6.9"/>
<circle class="D" cx="1876.2" cy="121.9" r="6.9"/>
<circle class="D" cx="1883.7" cy="121.9" r="6.9"/>
<circle class="D" cx="1895.5" cy="121.9" r="6.9"/>
<circle class="D" cx="1918.3" cy="139.6" r="6.9"/>
<circle class="D" cx="1877.2" cy="148.4" r="6.9"/>
<circle class="D" cx="1882.7" cy="148.4" r="6.9"/>
<circle class="D" cx="1887.1" cy="148.4" r="6.9"/>
<circle class="D" cx="1903.5" cy="148.4" r="6.9"/>
<circle class="D" cx="1875.7" cy="157.3" r="6.9"/>
<circle class="D" cx="1883.7" cy="157.3" r="6.9"/>
<circle class="D" cx="1913.4" cy="157.3" r="6.9"/>
<circle class="D" cx="1916.3" cy="157.3" r="6.9"/>
<circle class="D" cx="1880.7" cy="174.9" r="6.9"/>
<circle class="D" cx="1896" cy="183.8" r="6.9"/>
<circle class="D" cx="1904" cy="183.8" r="6.9"/>
<circle class="D" cx="1911.4" cy="183.8" r="6.9"/>
<circle class="D" cx="1886.6" cy="192.6" r="6.9"/>
<circle class="D" cx="1919.3" cy="192.6" r="6.9"/>
<circle class="D" cx="1922.8" cy="192.6" r="6.9"/>
<circle class="D" cx="1873.3" cy="201.4" r="6.9"/>
<circle class="D" cx="1884.2" cy="201.4" r="6.9"/>
<circle class="D" cx="1904.5" cy="201.4" r="6.9"/>
<circle class="D" cx="1909.4" cy="201.4" r="6.9"/>
<circle class="D" cx="1915.3" cy="201.4" r="6.9"/>
<circle class="D" cx="1892.1" cy="219.1" r="6.9"/>
<circle class="D" cx="1908.4" cy="219.1" r="6.9"/>
<circle class="D" cx="1909.4" cy="219.1" r="6.9"/>
<circle class="D" cx="1893.6" cy="227.9" r="6.9"/>
<circle class="D" cx="1894.6" cy="227.9" r="6.9"/>
<circle class="D" cx="1895.5" cy="236.8" r="6.9"/>
<circle class="D" cx="1908.4" cy="245.6" r="6.9"/>
<circle class="D" cx="1878" cy="263.3" r="6.9"/>
<circle class="D" cx="1891.3" cy="272.1" r="6.9"/>
<circle class="D" cx="1909.3" cy="272.1" r="6.9"/>
<circle class="D" cx="1873.9" cy="280.9" r="6.9"/>
<circle class="D" cx="1919.9" cy="280.9" r="6.9"/>
<circle class="D" cx="1890.5" cy="289.8" r="6.9"/>
<circle class="D" cx="1912.5" cy="289.8" r="6.9"/>
<circle class="D" cx="1874" cy="333.9" r="6.9"/>
<circle class="D" cx="1905.5" cy="351.6" r="6.9"/>
<circle class="D" cx="1900.9" cy="369.3" r="6.9"/>
<circle class="D" cx="1888.3" cy="386.9" r="6.9"/>
<circle class="C" cx="1958.2" cy="95.4" r="6.9"/>
<circle class="C" cx="1983" cy="95.4" r="6.9"/>
<circle class="C" cx="1947.8" cy="104.3" r="6.9"/>
<circle class="C" cx="1949.8" cy="104.3" r="6.9"/>
<circle class="C" cx="1955.7" cy="121.9" r="6.9"/>
<circle class="C" cx="1966.6" cy="121.9" r="6.9"/>
<circle class="C" cx="1992.3" cy="121.9" r="6.9"/>
<circle class="C" cx="1942.3" cy="130.8" r="6.9"/>
<circle class="C" cx="1949.8" cy="130.8" r="6.9"/>
<circle class="C" cx="1953" cy="130.8" r="6.9"/>
<circle class="C" cx="1956.7" cy="130.8" r="6.9"/>
<circle class="C" cx="1961.6" cy="130.8" r="6.9"/>
<circle class="C" cx="1988.4" cy="130.8" r="6.9"/>
<circle class="C" cx="1947.8" cy="139.6" r="6.9"/>
<circle class="C" cx="1952" cy="139.6" r="6.9"/>
<circle class="C" cx="1955.7" cy="139.6" r="6.9"/>
<circle class="C" cx="1964.6" cy="139.6" r="6.9"/>
<circle class="C" cx="1954.7" cy="148.4" r="6.9"/>
<circle class="C" cx="1968.6" cy="148.4" r="6.9"/>
<circle class="C" cx="1981.9" cy="148.4" r="6.9"/>
<circle class="C" cx="1947.3" cy="157.3" r="6.9"/>
<circle class="C" cx="1963.6" cy="157.3" r="6.9"/>
<circle class="C" cx="1993.8" cy="157.3" r="6.9"/>
<circle class="C" cx="1940.3" cy="166.1" r="6.9"/>
<circle class="C" cx="1946.8" cy="174.9" r="6.9"/>
<circle class="C" cx="1958.2" cy="174.9" r="6.9"/>
<circle class="C" cx="1989.9" cy="174.9" r="6.9"/>
<circle class="C" cx="1953.2" cy="183.8" r="6.9"/>
<circle class="C" cx="1950.2" cy="192.6" r="6.9"/>
<circle class="C" cx="1983.4" cy="192.6" r="6.9"/>
<circle class="C" cx="1948.3" cy="201.4" r="6.9"/>
<circle class="C" cx="1954.7" cy="201.4" r="6.9"/>
<circle class="C" cx="1964.6" cy="201.4" r="6.9"/>
<circle class="C" cx="1980.4" cy="201.4" r="6.9"/>
<circle class="C" cx="1942.8" cy="219.1" r="6.9"/>
<circle class="C" cx="1964.1" cy="219.1" r="6.9"/>
<circle class="C" cx="1965.1" cy="219.1" r="6.9"/>
<circle class="C" cx="1975.5" cy="219.1" r="6.9"/>
<circle class="C" cx="1985.4" cy="236.8" r="6.9"/>
<circle class="C" cx="1951.1" cy="272.1" r="6.9"/>
<circle class="C" cx="1954.6" cy="272.1" r="6.9"/>
<circle class="C" cx="1957" cy="280.9" r="6.9"/>
<circle class="C" cx="1983.9" cy="298.6" r="6.9"/>
<circle class="U" cx="2057.5" cy="33.6" r="6.9"/>
<circle class="U" cx="2064.5" cy="33.6" r="6.9"/>
<circle class="U" cx="2015.3" cy="42.4" r="6.9"/>
<circle class="U" cx="2042.6" cy="42.4" r="6.9"/>
<circle class="U" cx="2012.4" cy="51.3" r="6.9"/>
<circle class="U" cx="2021.6" cy="68.9" r="6.9"/>
<circle class="U" cx="2022.3" cy="77.8" r="6.9"/>
<circle class="U" cx="2026.7" cy="77.8" r="6.9"/>
<circle class="U" cx="2031.7" cy="77.8" r="6.9"/>
<circle class="U" cx="2043.6" cy="77.8" r="6.9"/>
<circle class="U" cx="2047.5" cy="77.8" r="6.9"/>
<circle class="U" cx="2051.5" cy="77.8" r="6.9"/>
<circle class="U" cx="2056.4" cy="77.8" r="6.9"/>
<circle class="U" cx="2051.5" cy="86.6" r="6.9"/>
<circle class="U" cx="2062" cy="86.6" r="6.9"/>
<circle class="U" cx="2028.7" cy="95.4" r="6.9"/>
<circle class="U" cx="2040.6" cy="95.4" r="6.9"/>
<circle class="U" cx="2042.6" cy="95.4" r="6.9"/>
<circle class="U" cx="2064.4" cy="95.4" r="6.9"/>
<circle class="U" cx="2062.4" cy="104.3" r="6.9"/>
<circle class="U" cx="2016.3" cy="113.1" r="6.9"/>
<circle class="U" cx="2030" cy="113.1" r="6.9"/>
<circle class="U" cx="2045" cy="113.1" r="6.9"/>
<circle class="U" cx="2014.4" cy="121.9" r="6.9"/>
<circle class="U" cx="2019.8" cy="121.9" r="6.9"/>
<circle class="U" cx="2025.7" cy="121.9" r="6.9"/>
<circle class="U" cx="2031.7" cy="121.9" r="6.9"/>
<circle class="U" cx="2044.6" cy="121.9" r="6.9"/>
<circle class="U" cx="2049.5" cy="121.9" r="6.9"/>
<circle class="U" cx="2054" cy="121.9" r="6.9"/>
<circle class="U" cx="2015.8" cy="130.8" r="6.9"/>
<circle class="U" cx="2019.8" cy="130.8" r="6.9"/>
<circle class="U" cx="2028.7" cy="130.8" r="6.9"/>
<circle class="U" cx="2036.6" cy="130.8" r="6.9"/>
<circle class="U" cx="2061.4" cy="130.8" r="6.9"/>
<circle class="U" cx="2020.8" cy="139.6" r="6.9"/>
<circle class="U" cx="2036.6" cy="139.6" r="6.9"/>
<circle class="U" cx="2041.6" cy="139.6" r="6.9"/>
<circle class="U" cx="2021.8" cy="148.4" r="6.9"/>
<circle class="U" cx="2051.5" cy="148.4" r="6.9"/>
<circle class="U" cx="2060.4" cy="166.1" r="6.9"/>
<circle class="U" cx="2035.1" cy="174.9" r="6.9"/>
<circle class="U" cx="2016.4" cy="183.8" r="6.9"/>
<circle class="U" cx="2048.3" cy="183.8" r="6.9"/>
<circle class="U" cx="2056.4" cy="183.8" r="6.9"/>
<circle class="U" cx="2014.3" cy="192.6" r="6.9"/>
<circle class="U" cx="2056" cy="219.1" r="6.9"/>
<circle class="U" cx="2025.3" cy="254.4" r="6.9"/>
<line x1="207.4" y1="208.8" x2="207.4" y2="234.3" stroke="#000" stroke-width="3"/>
<line x1="185.0" y1="208.8" x2="229.8" y2="208.8" stroke="#000" stroke-width="3.6"/>
<line x1="185.0" y1="234.3" x2="229.8" y2="234.3" stroke="#000" stroke-width="3.6"/>
<circle cx="207.4" cy="221.3" r="5.8" fill="#000"/>
<line x1="278" y1="134.3" x2="278" y2="146.2" stroke="#000" stroke-width="3"/>
<line x1="255.6" y1="134.3" x2="300.4" y2="134.3" stroke="#000" stroke-width="3.6"/>
<line x1="255.6" y1="146.2" x2="300.4" y2="146.2" stroke="#000" stroke-width="3.6"/>
<circle cx="278" cy="139.9" r="5.8" fill="#000"/>
<line x1="349.4" y1="107.1" x2="349.4" y2="121.1" stroke="#000" stroke-width="3"/>
<line x1="327.0" y1="107.1" x2="371.79999999999995" y2="107.1" stroke="#000" stroke-width="3.6"/>
<line x1="327.0" y1="121.1" x2="371.79999999999995" y2="121.1" stroke="#000" stroke-width="3.6"/>
<circle cx="349.4" cy="113.8" r="5.8" fill="#000"/>
<line x1="473.2" y1="163.9" x2="473.2" y2="182.5" stroke="#000" stroke-width="3"/>
<line x1="450.8" y1="163.9" x2="495.59999999999997" y2="163.9" stroke="#000" stroke-width="3.6"/>
<line x1="450.8" y1="182.5" x2="495.59999999999997" y2="182.5" stroke="#000" stroke-width="3.6"/>
<circle cx="473.2" cy="172.9" r="5.8" fill="#000"/>
<line x1="544.1" y1="131.3" x2="544.1" y2="141.1" stroke="#000" stroke-width="3"/>
<line x1="521.7" y1="131.3" x2="566.5" y2="131.3" stroke="#000" stroke-width="3.6"/>
<line x1="521.7" y1="141.1" x2="566.5" y2="141.1" stroke="#000" stroke-width="3.6"/>
<circle cx="544.1" cy="136.1" r="5.8" fill="#000"/>
<line x1="614.7" y1="111.3" x2="614.7" y2="120.7" stroke="#000" stroke-width="3"/>
<line x1="592.3000000000001" y1="111.3" x2="637.1" y2="111.3" stroke="#000" stroke-width="3.6"/>
<line x1="592.3000000000001" y1="120.7" x2="637.1" y2="120.7" stroke="#000" stroke-width="3.6"/>
<circle cx="614.7" cy="115.7" r="5.8" fill="#000"/>
<line x1="922.4" y1="257.3" x2="922.4" y2="282.3" stroke="#000" stroke-width="3"/>
<line x1="900.0" y1="257.3" x2="944.8" y2="257.3" stroke="#000" stroke-width="3.6"/>
<line x1="900.0" y1="282.3" x2="944.8" y2="282.3" stroke="#000" stroke-width="3.6"/>
<circle cx="922.4" cy="270.5" r="5.8" fill="#000"/>
<line x1="993.2" y1="288.8" x2="993.2" y2="304.2" stroke="#000" stroke-width="3"/>
<line x1="970.8000000000001" y1="288.8" x2="1015.6" y2="288.8" stroke="#000" stroke-width="3.6"/>
<line x1="970.8000000000001" y1="304.2" x2="1015.6" y2="304.2" stroke="#000" stroke-width="3.6"/>
<circle cx="993.2" cy="296.2" r="5.8" fill="#000"/>
<line x1="1063.9" y1="317.3" x2="1063.9" y2="336.9" stroke="#000" stroke-width="3"/>
<line x1="1041.5" y1="317.3" x2="1086.3000000000002" y2="317.3" stroke="#000" stroke-width="3.6"/>
<line x1="1041.5" y1="336.9" x2="1086.3000000000002" y2="336.9" stroke="#000" stroke-width="3.6"/>
<circle cx="1063.9" cy="326.8" r="5.8" fill="#000"/>
<line x1="1188" y1="280.9" x2="1188" y2="300.5" stroke="#000" stroke-width="3"/>
<line x1="1165.6" y1="280.9" x2="1210.4" y2="280.9" stroke="#000" stroke-width="3.6"/>
<line x1="1165.6" y1="300.5" x2="1210.4" y2="300.5" stroke="#000" stroke-width="3.6"/>
<circle cx="1188" cy="290.5" r="5.8" fill="#000"/>
<line x1="1258.6" y1="293.8" x2="1258.6" y2="313.6" stroke="#000" stroke-width="3"/>
<line x1="1236.1999999999998" y1="293.8" x2="1281.0" y2="293.8" stroke="#000" stroke-width="3.6"/>
<line x1="1236.1999999999998" y1="313.6" x2="1281.0" y2="313.6" stroke="#000" stroke-width="3.6"/>
<circle cx="1258.6" cy="303.9" r="5.8" fill="#000"/>
<line x1="1329.9" y1="355.8" x2="1329.9" y2="377.4" stroke="#000" stroke-width="3"/>
<line x1="1307.5" y1="355.8" x2="1352.3000000000002" y2="355.8" stroke="#000" stroke-width="3.6"/>
<line x1="1307.5" y1="377.4" x2="1352.3000000000002" y2="377.4" stroke="#000" stroke-width="3.6"/>
<circle cx="1329.9" cy="366.6" r="5.8" fill="#000"/>
<line x1="1630.6" y1="241.4" x2="1630.6" y2="266.8" stroke="#000" stroke-width="3"/>
<line x1="1608.1999999999998" y1="241.4" x2="1653.0" y2="241.4" stroke="#000" stroke-width="3.6"/>
<line x1="1608.1999999999998" y1="266.8" x2="1653.0" y2="266.8" stroke="#000" stroke-width="3.6"/>
<circle cx="1630.6" cy="254.2" r="5.8" fill="#000"/>
<line x1="1701.2" y1="173.0" x2="1701.2" y2="184.6" stroke="#000" stroke-width="3"/>
<line x1="1678.8" y1="173.0" x2="1723.6000000000001" y2="173.0" stroke="#000" stroke-width="3.6"/>
<line x1="1678.8" y1="184.6" x2="1723.6000000000001" y2="184.6" stroke="#000" stroke-width="3.6"/>
<circle cx="1701.2" cy="178.7" r="5.8" fill="#000"/>
<line x1="1772.1" y1="133.6" x2="1772.1" y2="148.6" stroke="#000" stroke-width="3"/>
<line x1="1749.6999999999998" y1="133.6" x2="1794.5" y2="133.6" stroke="#000" stroke-width="3.6"/>
<line x1="1749.6999999999998" y1="148.6" x2="1794.5" y2="148.6" stroke="#000" stroke-width="3.6"/>
<circle cx="1772.1" cy="140.8" r="5.8" fill="#000"/>
<line x1="1896.2" y1="196.9" x2="1896.2" y2="216.5" stroke="#000" stroke-width="3"/>
<line x1="1873.8" y1="196.9" x2="1918.6000000000001" y2="196.9" stroke="#000" stroke-width="3.6"/>
<line x1="1873.8" y1="216.5" x2="1918.6000000000001" y2="216.5" stroke="#000" stroke-width="3.6"/>
<circle cx="1896.2" cy="206.4" r="5.8" fill="#000"/>
<line x1="1967.1" y1="164.6" x2="1967.1" y2="178.8" stroke="#000" stroke-width="3"/>
<line x1="1944.6999999999998" y1="164.6" x2="1989.5" y2="164.6" stroke="#000" stroke-width="3.6"/>
<line x1="1944.6999999999998" y1="178.8" x2="1989.5" y2="178.8" stroke="#000" stroke-width="3.6"/>
<circle cx="1967.1" cy="171.5" r="5.8" fill="#000"/>
<line x1="2037.9" y1="110.7" x2="2037.9" y2="125.9" stroke="#000" stroke-width="3"/>
<line x1="2015.5" y1="110.7" x2="2060.3" y2="110.7" stroke="#000" stroke-width="3.6"/>
<line x1="2015.5" y1="125.9" x2="2060.3" y2="125.9" stroke="#000" stroke-width="3.6"/>
<circle cx="2037.9" cy="118.8" r="5.8" fill="#000"/>
<circle cx="544.4" cy="426.2" r="9" fill="rgba(92,172,238,0.2)" stroke="#5CACEE" stroke-width="1.8"/>
<text x="572.5" y="436.8" font-size="30">Down</text>
<circle cx="544.4" cy="460.5" r="9" fill="rgba(0,100,0,0.2)" stroke="#006400" stroke-width="1.8"/>
<text x="572.5" y="471.1" font-size="30">Control</text>
<circle cx="544.4" cy="494.8" r="9" fill="rgba(238,180,34,0.2)" stroke="#EEB422" stroke-width="1.8"/>
<text x="572.5" y="505.4" font-size="30">Up</text>
</svg></body></html>
